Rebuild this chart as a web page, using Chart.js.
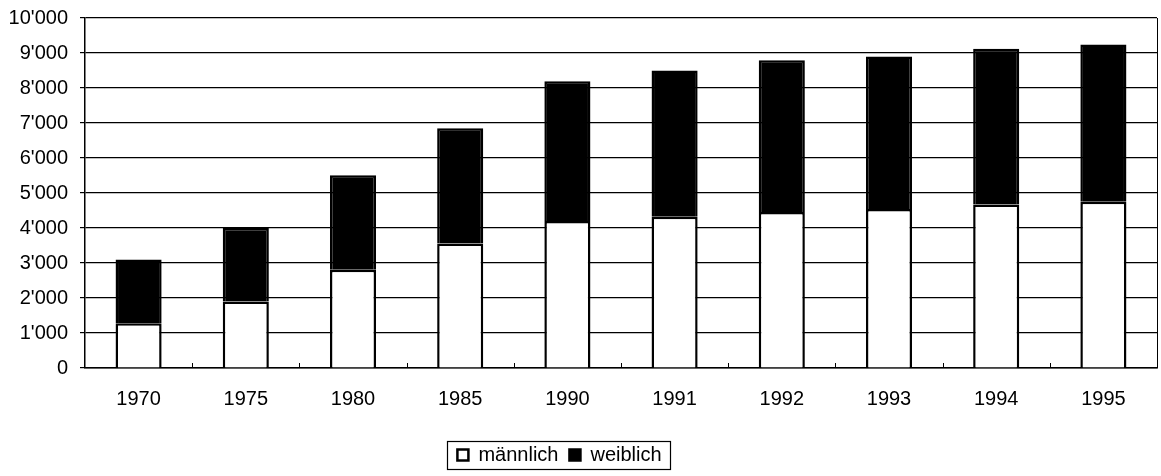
<!DOCTYPE html>
<html>
<head>
<meta charset="utf-8">
<script src="https://cdn.jsdelivr.net/npm/chart.js@4"></script>
<style>
  html, body { margin: 0; padding: 0; background: #fff; }
  #wrap { width: 1161px; height: 476px; }
</style>
</head>
<body>
<div id="wrap"><canvas id="chart"></canvas></div>
<script>
// Jahre (x-Achse)
const jahre = ['1970', '1975', '1980', '1985', '1990', '1991', '1992', '1993', '1994', '1995'];
// Werte pro Geschlecht (gestapelt)
const maennlich = [1280, 1900, 2810, 3560, 4200, 4320, 4460, 4540, 4670, 4750];
const weiblich = [1820, 2100, 2700, 3290, 3990, 4180, 4330, 4360, 4450, 4490];
// y-Achse
const yMax = 10000;
const yStep = 1000;

function tausender(v) {
  return String(v).replace(/\B(?=(\d{3})+(?!\d))/g, "'");
}

// Rahmen rechts, kleine Teilstriche auf der x-Achse, Kasten um die Legende
const rahmen = {
  id: 'rahmen',
  afterLayout(chart) {
    // Legende etwas nach links, wie im Original
    chart.legend.left -= 19;
    chart.legend.right -= 19;
  },
  afterDraw(chart) {
    const ctx = chart.ctx;
    const a = chart.chartArea;
    const x = chart.scales.x;
    ctx.save();
    ctx.strokeStyle = '#000';
    ctx.lineWidth = 1;
    ctx.beginPath();
    ctx.moveTo(a.right + 0.5, a.top);
    ctx.lineTo(a.right + 0.5, a.bottom);
    for (let i = 1; i < jahre.length; i++) {
      const px = Math.round((x.getPixelForValue(i - 1) + x.getPixelForValue(i)) / 2) + 0.5;
      ctx.moveTo(px, a.bottom);
      ctx.lineTo(px, a.bottom - 5);
    }
    ctx.stroke();

    const boxes = chart.legend.legendHitBoxes;
    if (boxes && boxes.length) {
      const l = Math.min(...boxes.map(b => b.left)) - 10;
      const r = Math.max(...boxes.map(b => b.left + b.width)) + 9;
      const cy = boxes[0].top + boxes[0].height / 2;
      ctx.lineWidth = 1.2;
      ctx.strokeRect(Math.round(l) + 0.5, Math.round(cy - 14) + 0.5, Math.round(r - l), 28);
    }
    ctx.restore();
  }
};

document.addEventListener('DOMContentLoaded', function () {
  const ctx = document.getElementById('chart').getContext('2d');

  const data = {
    labels: jahre,
    datasets: [{
      label: 'männlich',
      data: maennlich,
      backgroundColor: '#ffffff',
      borderColor: '#000000',
      borderWidth: 2.5
    }, {
      label: 'weiblich',
      data: weiblich,
      backgroundColor: '#000000',
      borderColor: '#000000',
      borderWidth: 2.5
    }]
  };

  const schrift = 'Liberation Sans, Arial, sans-serif';

  const options = {
    responsive: false,
    animation: false,
    devicePixelRatio: 1,
    layout: { padding: { top: 18, right: 4, bottom: 1, left: 0 } },
    datasets: {
      bar: { barPercentage: 0.43, categoryPercentage: 1 }
    },
    scales: {
      x: {
        stacked: true,
        afterFit(scale) { scale.height += 4; },
        grid: { display: false, drawTicks: false },
        border: { display: true, color: '#000', width: 1.5 },
        ticks: {
          color: '#000',
          padding: 19,
          font: { family: schrift, size: 20 }
        }
      },
      y: {
        stacked: true,
        min: 0,
        max: yMax,
        afterFit(scale) {
          scale.width = 85;
          scale.paddingTop = 0;
          scale.paddingBottom = 0;
        },
        grid: { color: '#000', lineWidth: 1.2, tickLength: 5, drawTicks: true },
        border: { display: true, color: '#000', width: 1.5 },
        ticks: {
          stepSize: yStep,
          color: '#000',
          padding: 12,
          font: { family: schrift, size: 20 },
          callback: function (v) { return tausender(v); }
        }
      }
    },
    plugins: {
      tooltip: { enabled: false },
      legend: {
        position: 'bottom',
        labels: {
          color: '#000',
          boxWidth: 11,
          boxHeight: 11,
          padding: 11,
          font: { family: schrift, size: 20 }
        }
      }
    }
  };

  const canvas = document.getElementById('chart');
  canvas.width = 1161;
  canvas.height = 476;

  new Chart(ctx, {
    type: 'bar',
    data: data,
    options: options,
    plugins: [rahmen]
  });
});
</script>
</body>
</html>
